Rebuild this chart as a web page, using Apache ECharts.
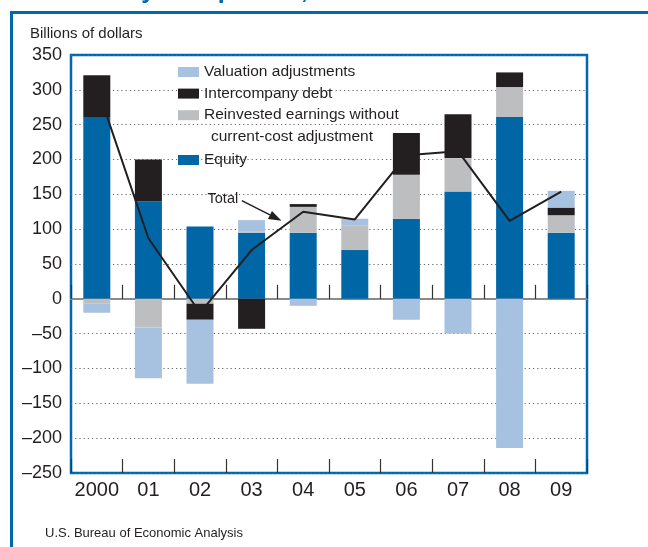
<!DOCTYPE html>
<html>
<head>
<meta charset="utf-8">
<script src="https://cdn.jsdelivr.net/npm/echarts@6/dist/echarts.min.js"></script>
<style>
html,body{margin:0;padding:0;background:#fff;}
#chart{width:648px;height:547px;}
</style>
</head>
<body>
<div id="chart"></div>
<script>
// ---- data ----
const categories = ['2000','01','02','03','04','05','06','07','08','09'];
const equity       = [260, 140, 104, 95, 95, 70, 115, 154, 261, 95];
const reinvested   = [-7, -41, -7, 2, 37, 35, 63, 48, 43, 25];
const intercompany = [61, 60, -23, -43, 4, 0, 60, 63, 21, 11];
const valuation    = [-13, -73, -92, 16, -10, 10, -30, -50, -214, 24];
const total        = [305, 87, -20, 70, 125, 114, 206, 212, 112, 154];
const yTicks = {min: -250, max: 350, interval: 50};

const NAME_VAL = 'Valuation adjustments';
const NAME_INT = 'Intercompany debt';
const NAME_REI = 'Reinvested earnings without current-cost adjustment';
const NAME_EQ  = 'Equity';

const C_BLUE = '#0066A6', C_LBLUE = '#A7C1E0', C_GRAY = '#BCBEC0', C_BLACK = '#231F20', C_FRAME = '#0068AC';
const FONT = 'Arial, "Liberation Sans", Helvetica, sans-serif';

const chart = echarts.init(document.getElementById('chart'), null, {renderer: 'canvas'});

function barSeries(name, data, color) {
  return {name, type: 'bar', stack: 'total', data, barWidth: 27,
          itemStyle: {color}, emphasis: {disabled: true}, animation: false};
}

const legendText = {fontFamily: FONT, fontSize: 15.5, color: C_BLACK, lineHeight: 21};

const option = {
  animation: false,
  textStyle: {fontFamily: FONT},
  grid: {left: 71, right: 61, top: 55, bottom: 74, show: true, borderColor: C_FRAME, borderWidth: 2.5, backgroundColor: 'transparent'},
  legend: [
    {orient: 'vertical', left: 173, top: 56.5, padding: 5, itemWidth: 21, itemHeight: 10, itemGap: 0.6, icon: 'rect',
     selectedMode: false, data: [NAME_VAL, NAME_INT, NAME_REI], textStyle: legendText,
     formatter: n => n === NAME_REI ? 'Reinvested earnings without' : n},
    {orient: 'vertical', left: 173, top: 144.5, padding: 5, itemWidth: 21, itemHeight: 10, itemGap: 0, icon: 'rect',
     selectedMode: false, data: [NAME_EQ], textStyle: legendText}
  ],
  xAxis: [
    {type: 'category', data: categories, position: 'bottom', boundaryGap: true,
     axisLine: {show: false, onZero: false},
     axisTick: {show: true, inside: true, length: 14, interval: 0, lineStyle: {color: '#333', width: 1.2}},
     axisLabel: {margin: 7, fontSize: 20, color: C_BLACK, fontFamily: FONT, interval: 0}},
    {type: 'category', data: categories, position: 'bottom', boundaryGap: true, offset: 0,
     axisLine: {show: true, onZero: false, lineStyle: {color: '#8a8a8a', width: 2}},
     axisTick: {show: true, inside: true, length: 14, interval: 0, lineStyle: {color: '#333', width: 1.2}},
     axisLabel: {show: false}}
  ],
  yAxis: {type: 'value', min: yTicks.min, max: yTicks.max, interval: yTicks.interval,
    axisLine: {show: false}, axisTick: {show: false},
    axisLabel: {margin: 9, fontSize: 18, color: C_BLACK, fontFamily: FONT,
      formatter: v => v < 0 ? '\u2013' + Math.abs(v) : String(v)},
    splitLine: {show: true, lineStyle: {color: '#666', width: 1, type: [1.2, 3]}}},
  series: [
    barSeries(NAME_EQ, equity, C_BLUE),
    barSeries(NAME_REI, reinvested, C_GRAY),
    barSeries(NAME_INT, intercompany, C_BLACK),
    barSeries(NAME_VAL, valuation, C_LBLUE),
    {name: 'Total', type: 'line', data: total, symbol: 'none', z: 5,
     lineStyle: {color: C_BLACK, width: 2}, emphasis: {disabled: true}, animation: false}
  ]
};
chart.setOption(option);

// move the second x axis onto the zero line (offset from grid bottom)
const zeroY = chart.convertToPixel({yAxisIndex: 0}, 0);
const bottomY = chart.convertToPixel({yAxisIndex: 0}, yTicks.min);
chart.setOption({xAxis: [{}, {offset: -(bottomY - zeroY)}]});

// annotation placed from data coordinates
function px(idx, val) {
  const i0 = Math.floor(idx), i1 = Math.min(i0 + 1, categories.length - 1);
  const p0 = chart.convertToPixel({gridIndex: 0}, [i0, val]);
  const p1 = chart.convertToPixel({gridIndex: 0}, [i1, val]);
  const f = idx - i0;
  return [p0[0] + (p1[0] - p0[0]) * f, p0[1]];
}
const tPos = px(2.74, 143);
const aStart = px(2.81, 141);
const aEnd = px(3.58, 112);
const dx = aEnd[0] - aStart[0], dy = aEnd[1] - aStart[1];
const len = Math.sqrt(dx*dx + dy*dy), ux = dx/len, uy = dy/len;
const hl = 13, hw = 4.5;
const base = [aEnd[0] - ux*hl, aEnd[1] - uy*hl];
const head = [aEnd, [base[0] - uy*hw, base[1] + ux*hw], [base[0] + uy*hw, base[1] - ux*hw]];

chart.setOption({
  graphic: [
    {type: 'text', left: 33, top: -21, silent: true,
     style: {text: 'Inflows by Component, 2000\u20132009', font: 'bold 25px ' + FONT, fill: C_FRAME}},
    {type: 'rect', silent: true, shape: {x: 10, y: 11, width: 660, height: 3}, style: {fill: C_FRAME}},
    {type: 'rect', silent: true, shape: {x: 10, y: 11, width: 3, height: 560}, style: {fill: C_FRAME}},
    {type: 'text', silent: true, x: 30, y: 34,
     style: {text: 'Billions of dollars', font: '15px ' + FONT, fill: C_BLACK, verticalAlign: 'middle'}},
    {type: 'text', silent: true, x: 45, y: 533,
     style: {text: 'U.S. Bureau of Economic Analysis', font: '13px ' + FONT, fill: C_BLACK, verticalAlign: 'middle'}},
    {type: 'text', silent: true, x: 211, y: 137,
     style: {text: 'current-cost adjustment', font: '15.5px ' + FONT, fill: C_BLACK, verticalAlign: 'middle'}},
    {type: 'text', silent: true, x: tPos[0], y: tPos[1], z: 10,
     style: {text: 'Total', font: '14.5px ' + FONT, fill: C_BLACK, align: 'right', verticalAlign: 'middle'}},
    {type: 'line', silent: true, z: 10, shape: {x1: aStart[0], y1: aStart[1], x2: base[0], y2: base[1]},
     style: {stroke: C_BLACK, lineWidth: 1.5}},
    {type: 'polygon', silent: true, z: 10, shape: {points: head}, style: {fill: C_BLACK}}
  ]
});
</script>
</body>
</html>
